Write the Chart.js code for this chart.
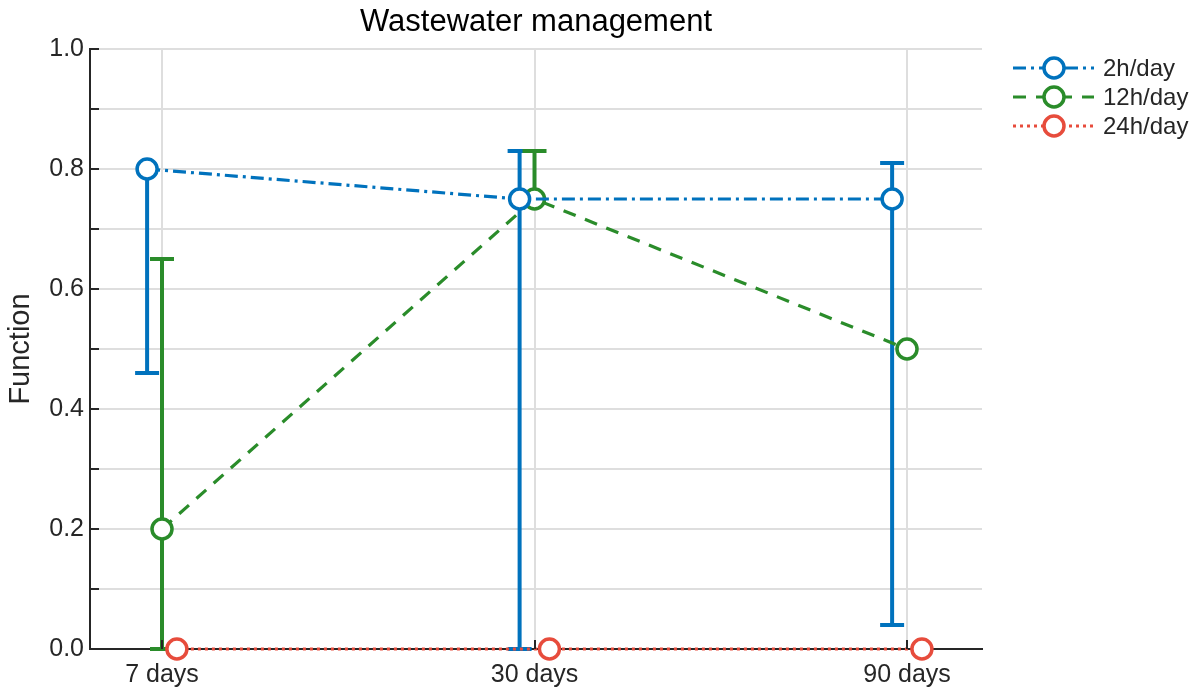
<!doctype html>
<html lang="en">
<head>
<meta charset="utf-8">
<title>Wastewater management</title>
<script src="https://cdn.jsdelivr.net/npm/chart.js"></script>
<style>
  body { margin: 0; background: #fff; }
  #wrap { width: 1198px; height: 691px; position: relative; }
</style>
</head>
<body>
<div id="wrap"><canvas id="chart"></canvas></div>
<script>
const categories = ['7 days', '30 days', '90 days']
const seriesNames = ['2h/day', '12h/day', '24h/day']

const values2h = [0.8, 0.75, 0.75]
const values12h = [0.2, 0.75, 0.5]
const values24h = [0, 0, 0]

// error bar ends (null = no bar)
const low2h = [0.46, 0, 0.04]
const high2h = [0.8, 0.83, 0.81]
const low12h = [0, 0.75, null]
const high12h = [0.65, 0.83, null]
const low24h = [null, null, null]
const high24h = [null, null, null]

const yTicks = [0, 0.1, 0.2, 0.3, 0.4, 0.5, 0.6, 0.7, 0.8, 0.9, 1.0]

const FONT = '"Liberation Sans", Arial, Helvetica, sans-serif'
const INK = '#262626'
const GRID = '#dedede'

const styles = [
  { color: '#0072bd', dash: [13, 5, 3, 5], dodge: -0.04 },
  { color: '#2a8c2a', dash: [13, 10], dodge: 0 },
  { color: '#e74c3c', dash: [3, 4], dodge: 0.04 },
]
const allValues = [values2h, values12h, values24h]
const allLow = [low2h, low12h, low24h]
const allHigh = [high2h, high12h, high24h]

const datasets = seriesNames.map((name, s) => ({
  label: name,
  data: allValues[s].map((v, i) => ({ x: i + styles[s].dodge, y: v })),
  borderColor: styles[s].color,
  borderWidth: 3.2,
  borderDash: styles[s].dash,
  borderCapStyle: 'butt',
  pointRadius: 10,
  pointBorderWidth: 3.5,
  pointBackgroundColor: '#fff',
  pointBorderColor: styles[s].color,
  pointHoverRadius: 10,
  fill: false,
  tension: 0,
  clip: false,
}))

const errorBars = {
  id: 'errorBars',
  beforeDatasetsDraw(chart) {
    const { ctx, scales: { x, y } } = chart
    ctx.save()
    ctx.lineWidth = 4
    ctx.setLineDash([])
    allValues.forEach((vals, s) => {
      ctx.strokeStyle = styles[s].color
      vals.forEach((v, i) => {
        const lo = allLow[s][i], hi = allHigh[s][i]
        if (lo == null || hi == null) return
        const px = x.getPixelForValue(i + styles[s].dodge)
        ctx.beginPath()
        ctx.moveTo(px, y.getPixelForValue(lo))
        ctx.lineTo(px, y.getPixelForValue(hi))
        ctx.stroke()
        ;[lo, hi].forEach((e) => {
          if (e === v) return
          const py = y.getPixelForValue(e)
          ctx.beginPath()
          ctx.moveTo(px - 12, py)
          ctx.lineTo(px + 12, py)
          ctx.stroke()
        })
      })
    })
    ctx.restore()
  },
}

const innerTicks = {
  id: 'innerTicks',
  afterDraw(chart) {
    const { ctx, scales: { x, y }, chartArea } = chart
    ctx.save()
    ctx.strokeStyle = INK
    ctx.lineWidth = 2
    ctx.setLineDash([])
    y.ticks.forEach((t) => {
      const py = Math.round(y.getPixelForValue(t.value))
      ctx.beginPath()
      ctx.moveTo(chartArea.left, py)
      ctx.lineTo(chartArea.left + 9, py)
      ctx.stroke()
    })
    x.ticks.forEach((t) => {
      const px = Math.round(x.getPixelForValue(t.value))
      ctx.beginPath()
      ctx.moveTo(px, chartArea.bottom)
      ctx.lineTo(px, chartArea.bottom - 9)
      ctx.stroke()
    })
    ctx.restore()
  },
}

const lineLegend = {
  id: 'lineLegend',
  afterDraw(chart) {
    const { ctx } = chart
    ctx.save()
    chart.data.datasets.forEach((ds, s) => {
      const cy = 68 + s * 29
      ctx.strokeStyle = ds.borderColor
      ctx.lineWidth = 3.2
      ctx.lineCap = 'butt'
      ctx.setLineDash(ds.borderDash)
      ctx.beginPath()
      ctx.moveTo(1013, cy)
      ctx.lineTo(1094, cy)
      ctx.stroke()
      ctx.setLineDash([])
      ctx.lineWidth = 3.5
      ctx.fillStyle = '#fff'
      ctx.beginPath()
      ctx.arc(1054, cy, 10, 0, Math.PI * 2)
      ctx.fill()
      ctx.stroke()
      ctx.fillStyle = INK
      ctx.font = '24px ' + FONT
      ctx.textBaseline = 'middle'
      ctx.textAlign = 'left'
      ctx.fillText(ds.label, 1103, cy + 1)
    })
    ctx.restore()
  },
}

new Chart(document.getElementById('chart'), {
  type: 'line',
  data: { datasets },
  plugins: [errorBars, innerTicks, lineLegend],
  options: {
    responsive: true,
    maintainAspectRatio: false,
    animation: false,
    events: [],
    layout: { padding: { left: 0, right: 216, top: 0, bottom: 0 } },
    plugins: {
      legend: { display: false },
      tooltip: { enabled: false },
      title: {
        display: true,
        text: 'Wastewater management',
        fullSize: false,
        color: '#000',
        font: { family: FONT, size: 31, weight: 'normal', lineHeight: 1.2 },
        padding: { top: 4, bottom: 7.8 },
      },
    },
    scales: {
      x: {
        type: 'linear',
        min: -0.1933,
        max: 2.2013,
        afterBuildTicks: (scale) => {
          scale.ticks = categories.map((_, i) => ({ value: i }))
        },
        afterFit: (scale) => { scale.height = 42 },
        ticks: {
          callback: (v) => categories[v],
          color: INK,
          font: { family: FONT, size: 25 },
          padding: 11,
          maxRotation: 0,
        },
        grid: { color: GRID, lineWidth: 2, drawTicks: false },
        border: { color: INK, width: 2 },
      },
      y: {
        min: 0,
        max: 1,
        afterBuildTicks: (scale) => {
          scale.ticks = yTicks.map((v) => ({ value: v }))
        },
        afterFit: (scale) => { scale.width = 90 },
        ticks: {
          callback: (v, i) => (i % 2 === 0 ? v.toFixed(1) : ''),
          color: INK,
          font: { family: FONT, size: 25 },
          padding: 6,
        },
        grid: { color: GRID, lineWidth: 2, drawTicks: false },
        border: { color: INK, width: 2 },
        title: {
          display: true,
          text: 'Function',
          color: INK,
          font: { family: FONT, size: 29 },
          padding: { top: 4, bottom: 8 },
        },
      },
    },
  },
})
</script>
</body>
</html>
